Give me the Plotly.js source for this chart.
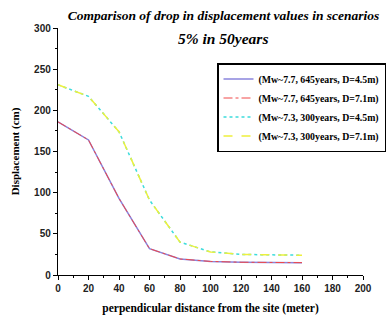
<!DOCTYPE html>
<html><head><meta charset="utf-8">
<script src="https://cdn.plot.ly/plotly-3.0.1.min.js"></script>
<style>html,body{margin:0;padding:0;background:#fff}#chart{width:390px;height:320px}</style>
</head><body><div id="chart"></div>
<script>
const distance = [0, 20, 40, 60, 80, 100, 120, 140, 160];
const mw77_645_d45 = [186, 164, 93, 32, 19.5, 16.5, 15.5, 15, 15];
const mw77_645_d71 = [186, 164, 93, 32, 19.5, 16.5, 15.5, 15, 15];
const mw73_300_d45 = [231, 217, 174, 91, 40, 28, 25, 24.5, 24];
const mw73_300_d71 = [231, 217, 174, 91, 40, 28, 25, 24.5, 24];
const seriesNames = ["(Mw~7.7, 645years, D=4.5m)", "(Mw~7.7, 645years, D=7.1m)", "(Mw~7.3, 300years, D=4.5m)", "(Mw~7.3, 300years, D=7.1m)"];
const xTicks = [0, 20, 40, 60, 80, 100, 120, 140, 160, 180, 200];
const yTicks = [0, 50, 100, 150, 200, 250, 300];
const titleLine1 = 'Comparison of drop in displacement values in scenarios';
const titleLine2 = '5% in 50years';

const traces = [
  {x: distance, y: mw77_645_d45, name: seriesNames[0], mode: 'lines', line: {color: '#8a84dc', width: 1.5, dash: 'solid'}},
  {x: distance, y: mw77_645_d71, name: seriesNames[1], mode: 'lines', line: {color: '#f04848', width: 1, dash: 'dashdot'}},
  {x: distance, y: mw73_300_d45, name: seriesNames[2], mode: 'lines', line: {color: '#3cdcdc', width: 1.5, dash: 'dot'}},
  {x: distance, y: mw73_300_d71, name: seriesNames[3], mode: 'lines', line: {color: '#eef03c', width: 1.5, dash: 'dash'}}
];
const serif = 'Liberation Serif, Times New Roman, serif';
const tickFont = {family: 'Liberation Sans, Arial, sans-serif', size: 10, color: '#222', weight: 'bold'};
const layout = {
  width: 390, height: 320,
  margin: {l: 58, r: 27, t: 28, b: 45, autoexpand: false},
  paper_bgcolor: '#fff', plot_bgcolor: '#fff',
  showlegend: true,
  title: {text: '<b><i>' + titleLine1 + '</i></b>',
    font: {family: serif, size: 13.5, color: '#000'},
    x: 0.573, xanchor: 'center', xref: 'container', y: 1 - 15/320, yanchor: 'middle', yref: 'container'},
  annotations: [{text: '<b><i>' + titleLine2 + '</i></b>', xref: 'paper', yref: 'paper',
    x: 0.541, y: (275 - 38) / 247, xanchor: 'center', yanchor: 'middle', showarrow: false,
    font: {family: serif, size: 15.5, color: '#000'}}],
  xaxis: {range: [0, 200], tickvals: xTicks, ticktext: xTicks.map(String), showline: true, linecolor: '#000', linewidth: 1.2,
    ticks: 'outside', ticklen: 4, tickcolor: '#000', showgrid: false, zeroline: false, tickfont: tickFont,
    minor: {dtick: 10, ticks: 'outside', ticklen: 2, tickcolor: '#000'},
    title: {text: '<b>perpendicular distance from the site (meter)</b>', font: {family: serif, size: 11.5, color: '#000'}, standoff: 10}},
  yaxis: {range: [0, 300], tickvals: yTicks, ticktext: yTicks.map(String), showline: true, linecolor: '#000', linewidth: 1.2,
    ticks: 'outside', ticklen: 4, tickcolor: '#000', showgrid: false, zeroline: false, tickfont: tickFont,
    minor: {dtick: 25, ticks: 'outside', ticklen: 2, tickcolor: '#000'},
    title: {text: '<b>Displacement (cm)</b>', font: {family: serif, size: 11, color: '#000'}, standoff: 12}},
  legend: {x: (217 - 58) / 305, xanchor: 'left', y: (275 - 63) / 247, yanchor: 'top', bgcolor: '#fff', bordercolor: '#000', borderwidth: 1.5,
    font: {family: serif, size: 9.8, color: '#000', weight: 'bold'},
    tracegroupgap: 0, itemwidth: 30}
};
Plotly.newPlot('chart', traces, layout, {staticPlot: true, displayModeBar: false});
</script></body></html>
